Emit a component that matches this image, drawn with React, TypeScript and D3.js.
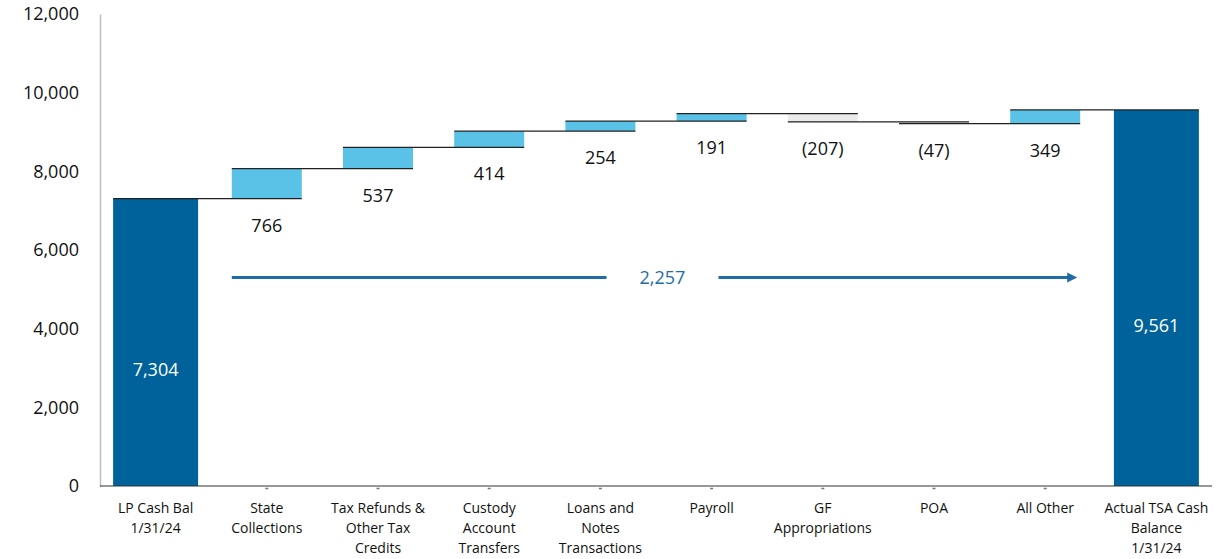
import * as d3 from 'd3'
import React, { useEffect, useRef } from 'react'

const categories = [
  'LP Cash Bal\n1/31/24',
  'State\nCollections',
  'Tax Refunds &\nOther Tax\nCredits',
  'Custody\nAccount\nTransfers',
  'Loans and\nNotes\nTransactions',
  'Payroll',
  'GF\nAppropriations',
  'POA',
  'All Other',
  'Actual TSA Cash\nBalance\n1/31/24'
]
const startBalance = 7304
const changes = [766, 537, 414, 254, 191, -207, -47, 349]
const endBalance = 9561
const yTicks = [0, 2000, 4000, 6000, 8000, 10000, 12000]
const netChangeLabel = '2,257'
const arrowLevel = 5300

const W = 1224
const H = 559
const FONT = '"Open Sans", sans-serif'

export default function App () {
  const ref = useRef<SVGSVGElement>(null)

  useEffect(() => {
    const svg = d3.select(ref.current)
    svg.selectAll('*').remove()

    const x = d3.scaleBand<string>().domain(categories).range([100, 1212]).padding(0)
    const y = d3.scaleLinear().domain([0, 12000]).range([486, 14])
    const step = x.bandwidth()
    const endW = 85
    const midW = 70

    // build waterfall steps
    type Step = { cat: string, from: number, to: number, kind: string, label: string }
    const steps: Step[] = []
    steps.push({ cat: categories[0], from: 0, to: startBalance, kind: 'total', label: d3.format(',')(startBalance) })
    let run = startBalance
    changes.forEach((c, i) => {
      steps.push({
        cat: categories[i + 1],
        from: run,
        to: run + c,
        kind: c >= 0 ? 'up' : 'down',
        label: c >= 0 ? d3.format(',')(c) : `(${d3.format(',')(-c)})`
      })
      run += c
    })
    steps.push({ cat: categories[categories.length - 1], from: 0, to: endBalance, kind: 'total', label: d3.format(',')(endBalance) })

    const barW = (d: Step) => d.kind === 'total' ? endW : midW
    const left = (d: Step) => (x(d.cat) as number) + (step - barW(d)) / 2
    const right = (d: Step) => left(d) + barW(d)

    // y axis
    const yAxis = svg.append('g').attr('transform', 'translate(100,0)')
      .call(d3.axisLeft(y).tickValues(yTicks).tickSize(0).tickPadding(21).tickFormat(d3.format(',')))
    yAxis.select('.domain').attr('stroke', '#bfbfbf').attr('stroke-width', 1.5)
    yAxis.selectAll('text').attr('font-family', FONT).attr('font-size', 18).attr('fill', '#111')

    const colors: Record<string, string> = { total: '#00629b', up: '#5bc2e7', down: '#ebebeb' }

    svg.append('g').selectAll('rect').data(steps).enter().append('rect')
      .attr('x', left)
      .attr('width', barW)
      .attr('y', d => y(Math.max(d.from, d.to)))
      .attr('height', d => Math.abs(y(d.from) - y(d.to)))
      .attr('fill', d => colors[d.kind])

    // connectors
    const conn = svg.append('g').attr('stroke', '#222').attr('stroke-width', 1.3)
    steps.slice(0, -1).forEach((d, i) => {
      const next = steps[i + 1]
      conn.append('line')
        .attr('x1', left(d)).attr('x2', right(next))
        .attr('y1', y(d.to)).attr('y2', y(d.to))
    })

    // x axis
    svg.append('line').attr('x1', 100).attr('x2', 1212).attr('y1', 486).attr('y2', 486)
      .attr('stroke', '#333').attr('stroke-width', 1.2)
    svg.append('g').selectAll('line').data(categories.slice(1, -1)).enter().append('line')
      .attr('x1', d => (x(d) as number) + step / 2 - 1.5)
      .attr('x2', d => (x(d) as number) + step / 2 + 1.5)
      .attr('y1', 488.5).attr('y2', 488.5)
      .attr('stroke', '#777').attr('stroke-width', 1.5)

    const catText = svg.append('g').selectAll('text').data(categories).enter().append('text')
      .attr('text-anchor', 'middle')
      .attr('font-family', FONT).attr('font-size', 14).attr('fill', '#111')
      .attr('transform', d => `translate(${(x(d) as number) + step / 2},513)`)
    catText.selectAll('tspan').data(d => d.split('\n')).enter().append('tspan')
      .attr('x', 0).attr('y', (d, i) => i * 20).text(d => d)

    // value labels
    svg.append('g').selectAll('text').data(steps).enter().append('text')
      .attr('text-anchor', 'middle')
      .attr('font-family', FONT).attr('font-size', 18)
      .attr('fill', d => d.kind === 'total' ? '#fff' : '#111')
      .attr('x', d => (x(d.cat) as number) + step / 2)
      .attr('y', d => d.kind === 'total' ? y(d.to / 2) + 34 : y(Math.min(d.from, d.to)) + 33)
      .text(d => d.label)

    // net change arrow
    const ay = y(arrowLevel)
    const ax1 = left(steps[1])
    const ax2 = right(steps[steps.length - 2]) - 3
    const mid = (ax1 + ax2) / 2 + 8
    const gap = 56
    const blue = '#1f6ca6'
    svg.append('line').attr('x1', ax1).attr('x2', mid - gap).attr('y1', ay).attr('y2', ay)
      .attr('stroke', blue).attr('stroke-width', 3)
    svg.append('line').attr('x1', mid + gap).attr('x2', ax2 - 8).attr('y1', ay).attr('y2', ay)
      .attr('stroke', blue).attr('stroke-width', 3)
    svg.append('path')
      .attr('d', `M${ax2 - 10},${ay - 5} L${ax2},${ay} L${ax2 - 10},${ay + 5} Z`)
      .attr('fill', blue)
    svg.append('text').attr('x', mid).attr('y', ay + 6)
      .attr('text-anchor', 'middle').attr('font-family', FONT).attr('font-size', 18)
      .attr('fill', blue).text(netChangeLabel)
  }, [])

  return (
    <svg
      ref={ref}
      width={W}
      height={H}
      style={{ position: 'absolute', left: 0, top: 0, background: '#fff' }}
    />
  )
}
